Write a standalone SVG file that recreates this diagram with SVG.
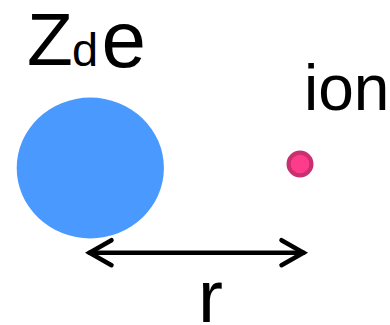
<svg xmlns="http://www.w3.org/2000/svg" width="390" height="325" viewBox="0 0 390 325">
<style>
text{font-family:"Liberation Sans",Arial,sans-serif;fill:#000}
.conn{stroke:#000;stroke-width:4.5;fill:none;stroke-linecap:round}
</style>
<defs>
<marker id="chev" markerUnits="userSpaceOnUse" viewBox="-30 -16 34 32" markerWidth="34" markerHeight="32" refX="0" refY="0" orient="auto-start-reverse" overflow="visible">
<path d="M-22,-12.5 L0,0 L-22,12.5" fill="none" stroke="#000" stroke-width="4.5" stroke-linecap="round" stroke-linejoin="miter"/>
</marker>
</defs>
<g id="body">
<ellipse cx="90.3" cy="168" rx="73.6" ry="70.4" fill="#4a99ff"/>
<text x="27" y="65" font-size="75">Z</text>
<text x="72" y="66" font-size="47">d</text>
<text x="101.5" y="67" font-size="80">e</text>
</g>
<g id="ion">
<circle cx="300" cy="164" r="11.4" fill="#ff3b8c" stroke="#c8306f" stroke-width="4.2"/>
<text x="304" y="110" font-size="64">ion</text>
</g>
<g id="connectors">
<line class="conn" x1="89.5" y1="252.7" x2="303.5" y2="252.7" marker-start="url(#chev)" marker-end="url(#chev)"/>
</g>
<g id="label-r">
<text x="198" y="322" font-size="75">r</text>
</g>
</svg>
